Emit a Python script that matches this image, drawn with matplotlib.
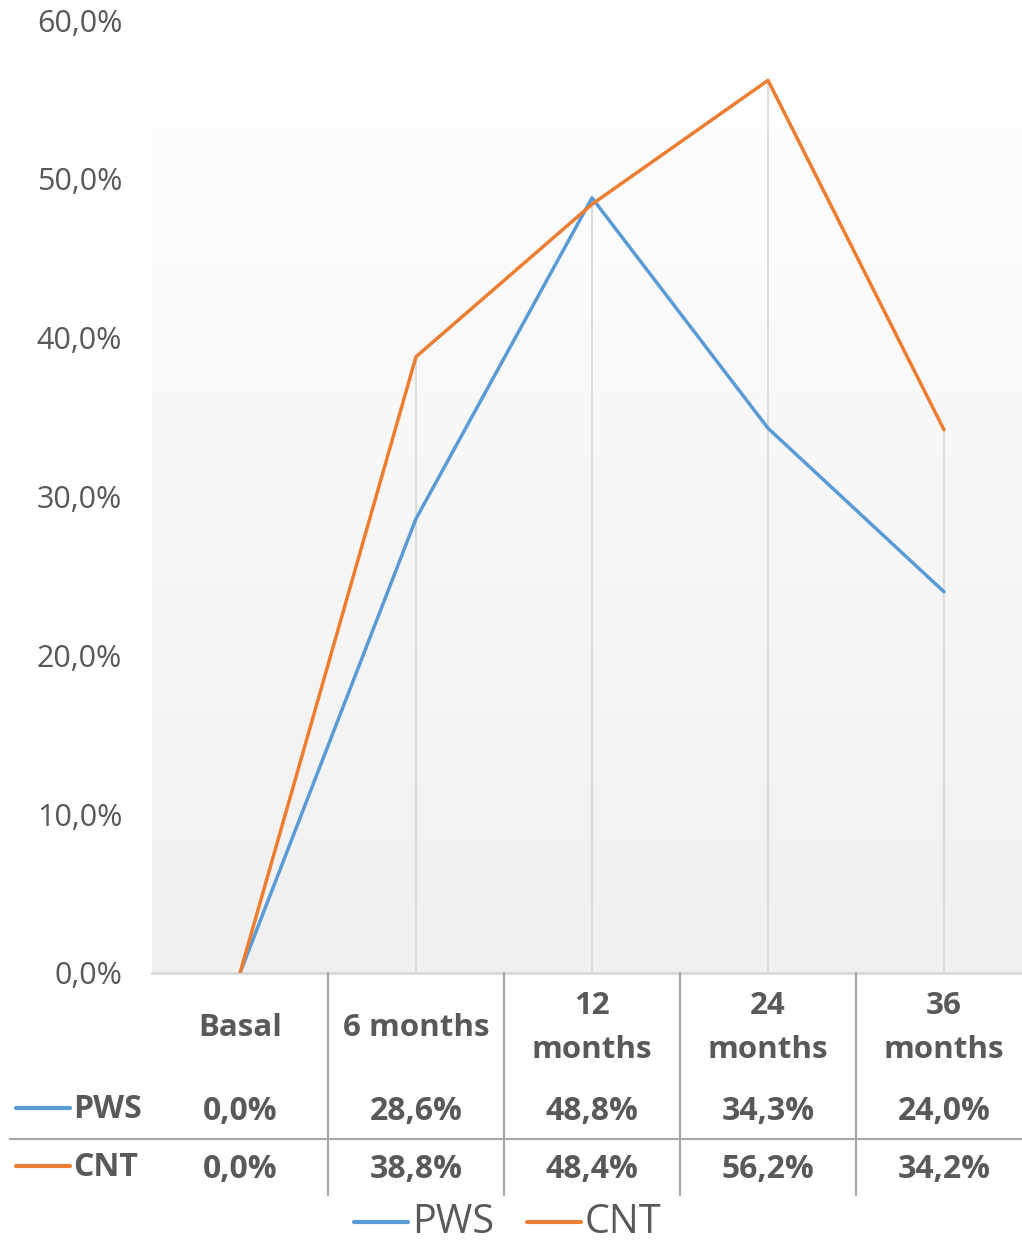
import matplotlib
matplotlib.use("Agg")
import matplotlib.pyplot as plt
import numpy as np
from matplotlib.transforms import blended_transform_factory
from matplotlib.lines import Line2D

categories = ["Basal", "6 months", "12\nmonths", "24\nmonths", "36\nmonths"]
pws = [0.0, 28.6, 48.8, 34.3, 24.0]
cnt = [0.0, 38.8, 48.4, 56.2, 34.2]
series_names = ["PWS", "CNT"]
yticks = [0, 10, 20, 30, 40, 50, 60]

BLUE = "#5B9BD5"
ORANGE = "#ED7D31"
TXT = "#595959"
GRID = "#D9D9D9"
BORDER = "#A6A6A6"

plt.rcParams['font.family'] = ['Open Sans', 'DejaVu Sans']

W, H = 1022, 1242
fig = plt.figure(figsize=(W / 100, H / 100), dpi=100)

def fx(px):
    return px / W

def fy(py):
    return 1 - py / H

# plot area (pixel geometry)
L, R, T, B = 152, 1032, 20, 973
ax = fig.add_axes([fx(L), fy(B), fx(R) - fx(L), fy(T) - fy(B)])
ax.set_xlim(-0.5, len(categories) - 0.5)
ax.set_ylim(0, 60)
ax.patch.set_alpha(0)
for s in ax.spines.values():
    s.set_visible(False)
ax.set_xticks([])
ax.set_yticks(yticks)
ax.set_yticklabels([f"{v:.1f}".replace(".", ",") + "%" for v in yticks],
                   fontsize=22, color=TXT)
ax.tick_params(axis='y', length=0, pad=21.5)

# gradient background of the inner plot area
gax = fig.add_axes([fx(L), fy(B), fx(R) - fx(L), fy(128) - fy(B)], zorder=-1)
grad = np.linspace(0, 1, 256).reshape(-1, 1)
top = np.array([0xfd, 0xfd, 0xfd]) / 255
bot = np.array([0xf0, 0xf0, 0xf0]) / 255
img = top[None, None, :] * (1 - grad[:, :, None]) + bot[None, None, :] * grad[:, :, None]
gax.imshow(img, aspect='auto', extent=[0, 1, 0, 1], origin='upper')
gax.axis('off')

x = np.arange(len(categories))
# drop lines
for xi, a, b in zip(x, pws, cnt):
    ax.plot([xi, xi], [0, max(a, b)], color=GRID, lw=1.3, zorder=1)
ax.axhline(0, color=GRID, lw=2, zorder=1, clip_on=False)

ax.plot(x, pws, color=BLUE, lw=2.5, zorder=3, solid_capstyle='round')
ax.plot(x, cnt, color=ORANGE, lw=2.5, zorder=3, solid_capstyle='round')

# data table
tr = blended_transform_factory(ax.transData, fig.transFigure)
for xi, cat in zip(x, categories):
    ax.text(xi, fy(1028), cat, transform=tr, ha='center', va='center',
            fontsize=22.5, fontweight='bold', color=TXT, linespacing=1.62,
            clip_on=False)
for row_y, vals in [(1112, pws), (1169, cnt)]:
    for xi, v in zip(x, vals):
        ax.text(xi, fy(row_y), f"{v:.1f}".replace(".", ",") + "%", transform=tr,
                ha='center', va='center', fontsize=23, fontweight='bold',
                color=TXT, clip_on=False)

# table borders
for xb in [0.5, 1.5, 2.5, 3.5]:
    fig.add_artist(Line2D([ax.transData.transform((xb, 0))[0] / W] * 2,
                          [fy(973), fy(1195)], color=BORDER, lw=1.5))
fig.add_artist(Line2D([fx(10), fx(1022)], [fy(1139), fy(1139)], color=BORDER, lw=1.5))

# row legend keys
for row_y, name, col in [(1108, series_names[0], BLUE), (1166, series_names[1], ORANGE)]:
    fig.add_artist(Line2D([fx(16), fx(70)], [fy(row_y), fy(row_y)], color=col, lw=3,
                          solid_capstyle='round'))
    fig.text(fx(73), fy(row_y + 1), name, ha='left', va='center', fontsize=23,
             fontweight='bold', color=TXT)

# bottom legend
for x0, name, col in [(354, series_names[0], BLUE), (527, series_names[1], ORANGE)]:
    fig.add_artist(Line2D([fx(x0), fx(x0 + 54)], [fy(1222), fy(1222)], color=col, lw=3,
                          solid_capstyle='round'))
    fig.text(fx(x0 + 58), fy(1233), name, ha='left', va='baseline', fontsize=28.5,
             color=TXT)

fig.savefig("out.png", dpi=100)
